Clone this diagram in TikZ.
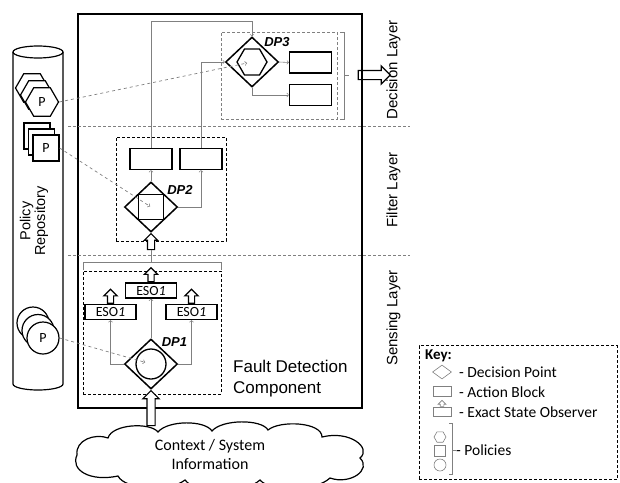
\documentclass[tikz,border=0pt]{standalone}
\usepackage{fontspec}
\setmainfont{Carlito}
\newfontfamily\arialfont{Liberation Sans}
\usetikzlibrary{positioning,shapes.geometric,shapes.arrows}

\begin{document}
\begin{tikzpicture}[x=1pt, y=-1pt,
    dp/.style={diamond, draw, line width=1.5pt, minimum width=53pt, minimum height=50pt, inner sep=0pt},
    act/.style={draw, line width=1.3pt, minimum width=42pt, minimum height=21pt, inner sep=0pt},
    eso/.style={draw, line width=1.3pt, fill=white, minimum width=51pt, minimum height=15pt, inner sep=0pt, font=\fontsize{14}{15}\selectfont},
    esoup/.style={single arrow, draw, line width=1.2pt, fill=white, rotate=90, anchor=tail, inner sep=2.5pt, minimum height=14pt, single arrow head extend=3.5pt, single arrow head indent=0pt},
    blockup/.style={single arrow, draw, line width=1.2pt, fill=white, rotate=90, inner sep=3.5pt, single arrow head extend=4pt, single arrow head indent=0pt},
    flow/.style={->, gray, line width=0.6pt},
    pol/.style={->, gray, dashed, line width=0.7pt},
    zone/.style={draw, densely dashed, line width=0.6pt},
    polfont/.style={font=\fontsize{14}{16}\selectfont},
    dplabel/.style={font=\arialfont\bfseries\itshape\fontsize{13}{15}\selectfont},
    layer/.style={rotate=90, font=\arialfont\fontsize{15}{17}\selectfont},
    keytext/.style={anchor=west, inner sep=0pt, font=\fontsize{15.5}{17}\selectfont},
    keyicon/.style={draw=gray, line width=0.6pt, inner sep=0pt},
  ]
  \useasboundingbox (0,0) rectangle (620,482);

  % fault detection component
  \node[draw, line width=1.3pt, minimum width=284pt, minimum height=394pt] (fdc) at (220,211) {};
  \node[anchor=west, align=left, inner sep=0pt, font=\arialfont\fontsize{17}{21}\selectfont] (fdclabel) at (233,378.5) {Fault Detection\\Component};

  % layers
  \draw[gray, densely dashed, line width=0.6pt] (68,126) -- (410,126);
  \draw[gray, densely dashed, line width=0.6pt] (68,255) -- (410,255);
  \node[layer] (declayer) at (393.5,70) {Decision Layer};
  \node[layer] (fillayer) at (393.5,190) {Filter Layer};
  \node[layer] (senlayer) at (393.5,318) {Sensing Layer};

  % policy repository
  \draw[line width=1.2pt] (38,52) ellipse [x radius=25, y radius=6];
  \draw[line width=1.2pt] (13,52) -- (13,384) arc [start angle=180, end angle=0, x radius=25, y radius=6] -- (63,52);
  \node[rotate=90, align=center, font=\arialfont\fontsize{14.5}{13}\selectfont] (repolabel) at (34,221) {Policy\\Repository};
  \foreach \d in {2,1} {
    \node[draw, line width=1.2pt, fill=white, regular polygon, regular polygon sides=6, minimum size=33pt, inner sep=0pt] at (42-5*\d,102-7*\d) {};
    \node[draw, line width=1.2pt, fill=white, minimum size=26pt, inner sep=0pt] at (46-4.5*\d,148-6*\d) {};
    \node[draw, line width=1.2pt, fill=white, circle, minimum size=32pt, inner sep=0pt] at (43-5*\d,338-7.5*\d) {};
  }
  \node[draw, line width=1.2pt, fill=white, regular polygon, regular polygon sides=6, minimum size=33pt, inner sep=0pt, polfont] (hexP) at (42,102) {P};
  \node[draw, line width=1.2pt, fill=white, minimum size=26pt, inner sep=0pt, polfont] (sqP) at (46,148) {P};
  \node[draw, line width=1.2pt, fill=white, circle, minimum size=32pt, inner sep=0pt, polfont] (cirP) at (43,338) {P};

  % decision layer
  \node[zone, gray] (zone3) at (279,75.5) [minimum width=116pt, minimum height=87pt] {};
  \node[dp] (dp3) at (252,62) {};
  \node[draw, line width=1.3pt, regular polygon, regular polygon sides=6, minimum size=30pt, inner sep=0pt] (hex3) at (dp3) {};
  \node[dplabel] (dp3label) at (277,42) {DP3};
  \node[act] (a31) at (310.5,62.5) {};
  \node[act] (a32) at (310.5,95) {};
  \draw[gray, line width=0.6pt] (340,32) -- (344,32) -- (344,119) -- (340,119) (344,75) -- (349,75);
  \node[single arrow, draw, line width=1.2pt, inner sep=4pt, minimum height=32pt, single arrow head extend=4.5pt, single arrow head indent=0pt] (out3) at (372,75) {};

  % filter layer
  \node[zone] (zone2) at (171,189) [minimum width=110pt, minimum height=104pt] {};
  \node[dp] (dp2) at (151,207) {};
  \node[draw, line width=1.3pt, minimum size=25pt, inner sep=0pt] (sq2) at (dp2) {};
  \node[dplabel] (dp2label) at (180,190) {DP2};
  \node[act] (a21) at (151,159) {};
  \node[act] (a22) at (201,159) {};
  \node[blockup, inner sep=3pt, single arrow head extend=3pt, minimum height=16pt, anchor=tip] (in2) at (dp2.south) {};

  % sensing layer
  \node[zone] (zone1) at (152,332.5) [minimum width=138pt, minimum height=123pt] {};
  \draw[gray, line width=0.6pt] (83,270) -- (83,262) -- (221,262) -- (221,270);
  \draw[gray, line width=0.6pt] (in2.tail) -- (151,262);
  \node[dp] (dp1) at (151,364) {};
  \node[draw, line width=1.3pt, circle, minimum size=30pt, inner sep=0pt] (cir1) at (dp1) {};
  \node[dplabel] (dp1label) at (174.5,342.5) {DP1};
  \node[eso] (eso0) at (151,290.5) {ESO\textit{1}};
  \node[eso] (eso1) at (110.5,312) {ESO\textit{1}};
  \node[eso] (eso2) at (191.5,312) {ESO\textit{1}};
  \foreach \e in {eso0,eso1,eso2}
    \node[esoup] at (\e.north) {};

  % context cloud
  \draw[line width=1.2pt] (77,455) .. controls (75,440) and (95,433) .. (108,438)
    .. controls (112,424) and (150,422) .. (158,432)
    .. controls (168,420) and (205,420) .. (212,431)
    .. controls (222,419) and (262,419) .. (268,430)
    .. controls (280,420) and (322,422) .. (322,437)
    .. controls (350,430) and (372,448) .. (360,458)
    .. controls (372,470) and (350,485) .. (330,478)
    .. controls (315,492) and (270,492) .. (260,480)
    .. controls (245,494) and (195,494) .. (185,480)
    .. controls (170,492) and (125,490) .. (118,476)
    .. controls (90,482) and (70,470) .. (77,455) -- cycle;
  \node[align=center, font=\fontsize{16}{19}\selectfont] (ctxlabel) at (210,454) {Context / System\\Information};
  \node[blockup, minimum height=35pt, anchor=tip] (in1) at (dp1.south) {};

  % connectors
  \coordinate (top) at (151,21);
  \draw[flow] (a21.north) -- (top) -| (dp3.north);
  \draw[flow] (a22.north) |- (dp3.west);
  \draw[flow] (dp3.east) -- (a31.west);
  \draw[flow] (dp3.south) |- (a32.west);
  \draw[flow] (dp2.north) -- (a21.south);
  \draw[flow] (dp2.east) -| (a22.south);
  \draw[flow] (dp1.north) -- (eso0.south);
  \draw[flow] (dp1.west) -| (eso1.south);
  \draw[flow] (dp1.east) -| (eso2.south);
  \draw[pol, shorten >=5pt] (hexP.east) -- (hex3.center);
  \draw[pol, shorten >=1pt] (sqP.east) -- (sq2.center);
  \draw[pol, shorten >=6pt] (cirP.east) -- (cir1.center);

  % key
  \node[draw, densely dashed, line width=0.7pt, minimum width=198pt, minimum height=134pt] (keybox) at (518,412.5) {};
  \node[anchor=west, inner sep=0pt, font=\bfseries\fontsize{15}{17}\selectfont] (keytitle) at (425,356) {Key:};
  \node[keyicon, diamond, minimum width=19pt, minimum height=14pt] (kdp) at (442,372) {};
  \node[keytext] (kdptext) at (459,372) {- Decision Point};
  \node[keyicon, minimum width=18pt, minimum height=10pt] (kact) at (442,391.5) {};
  \node[keytext] (kacttext) at (459,392) {- Action Block};
  \node[keyicon, minimum width=18pt, minimum height=9pt] (keso) at (442,411.5) {};
  \node[keyicon, fill=white, single arrow, rotate=90, anchor=tail, inner sep=1.5pt, minimum height=6pt, single arrow head extend=2pt, single arrow head indent=0pt] (kesoup) at (keso.north) {};
  \node[keytext] (kesotext) at (459,412) {- Exact State Observer};
  \node[keyicon, regular polygon, regular polygon sides=6, minimum size=12pt] (khex) at (440,437) {};
  \node[keyicon, minimum size=11pt] (ksq) at (440,451) {};
  \node[keyicon, circle, minimum size=12pt] (kcir) at (440,465) {};
  \draw[gray, line width=0.6pt] (449,423) -- (452,423) -- (452,474) -- (449,474) (452,450) -- (456,450);
  \node[keytext] (kpoltext) at (456,450) {- Policies};
\end{tikzpicture}
\end{document}
